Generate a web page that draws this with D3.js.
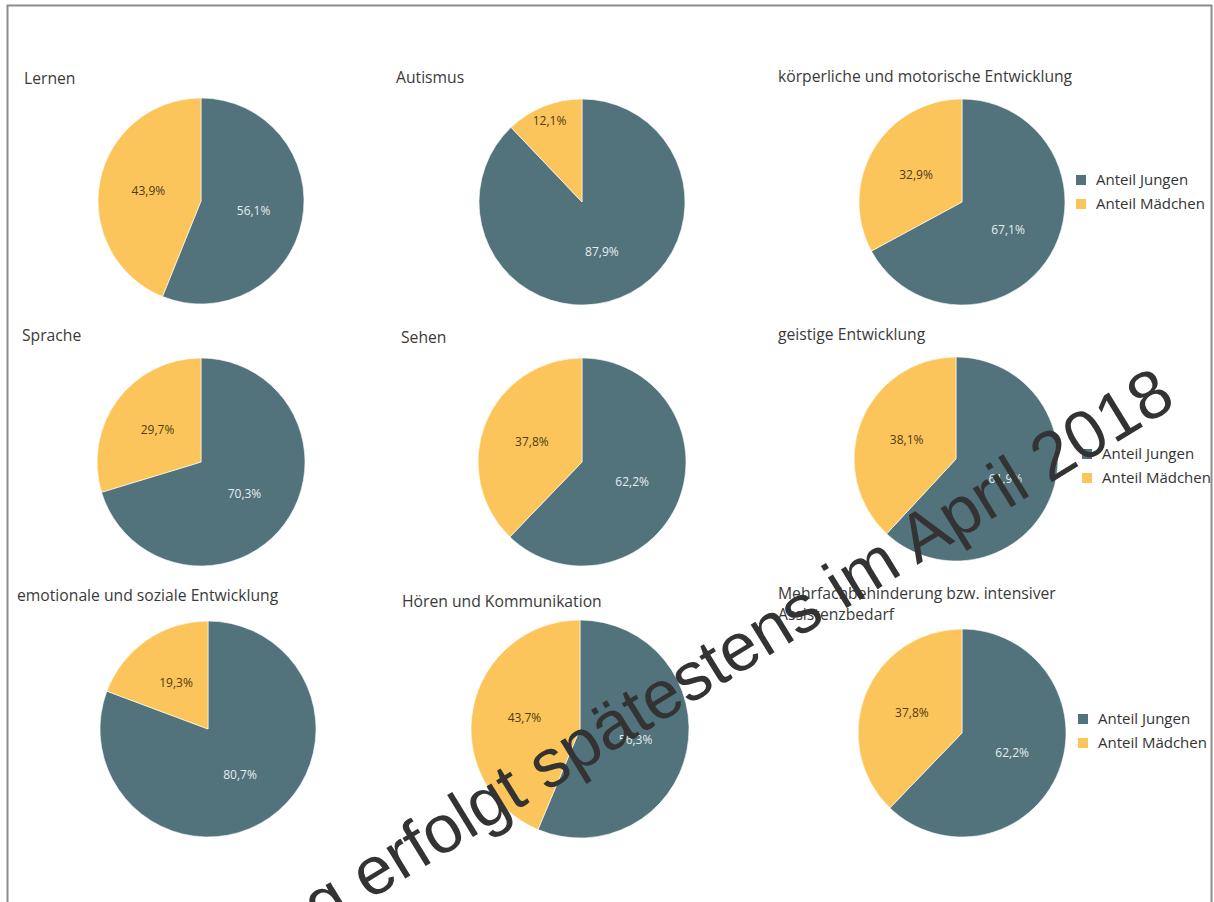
<!DOCTYPE html>
<html><head><meta charset="utf-8">
<script src="https://cdn.jsdelivr.net/npm/d3@7"></script>
<style>
html,body{margin:0;padding:0;background:#fff;overflow:hidden;}
svg{display:block;}
</style></head>
<body>
<svg id="chart" width="1214" height="902"></svg>
<script>
// ---- data ----
const titles = [
  ["Lernen"],
  ["Autismus"],
  ["körperliche und motorische Entwicklung"],
  ["Sprache"],
  ["Sehen"],
  ["geistige Entwicklung"],
  ["emotionale und soziale Entwicklung"],
  ["Hören und Kommunikation"],
  ["Mehrfachbehinderung bzw. intensiver", "Assistenzbedarf"]
];
const seriesNames = ["Anteil Jungen", "Anteil Mädchen"];
const jungen   = [56.1, 87.9, 67.1, 70.3, 62.2, 61.9, 80.7, 56.3, 62.2];
const maedchen = [43.9, 12.1, 32.9, 29.7, 37.8, 38.1, 19.3, 43.7, 37.8];
const watermark = "Veröffentlichung erfolgt spätestens im April 2018";

// ---- layout ----
const layout = [
  {cx:201, cy:201, r:103, tx:24,  ty:84},
  {cx:582, cy:202, r:103, tx:396, ty:83},
  {cx:962, cy:202, r:103, tx:778, ty:82, lx:1076, ly:180},
  {cx:201, cy:462, r:104, tx:22,  ty:341},
  {cx:582, cy:462, r:104, tx:401, ty:343},
  {cx:956, cy:459, r:102, tx:778, ty:340, lx:1082, ly:454},
  {cx:208, cy:729, r:108, tx:17,  ty:601},
  {cx:580, cy:729, r:109, tx:402, ty:607},
  {cx:962, cy:733, r:104, tx:778, ty:599, lx:1078, ly:719}
];
const colors = d3.scaleOrdinal().domain(seriesNames).range(["#52727c", "#fcc55b"]);
const labelColors = d3.scaleOrdinal().domain(seriesNames).range(["#e6edef", "#4e3c12"]);
const fmt = v => d3.format(".1f")(v).replace(".", ",") + "%";
const font = "'Open Sans', 'Noto Sans', sans-serif";

const svg = d3.select("#chart");

// frame
svg.append("rect").attr("x", 7.5).attr("y", 5.5).attr("width", 1204).attr("height", 920)
  .attr("fill", "none").attr("stroke", "#8c8c8c").attr("stroke-width", 2);

const pie = d3.pie().sort(null).value(d => d.value);

layout.forEach((L, i) => {
  const data = [
    {name: seriesNames[0], value: jungen[i]},
    {name: seriesNames[1], value: maedchen[i]}
  ];
  const g = svg.append("g").attr("transform", `translate(${L.cx},${L.cy})`);
  const arc = d3.arc().innerRadius(0).outerRadius(L.r);
  const arcs = pie(data);
  g.selectAll("path").data(arcs).join("path")
    .attr("d", arc)
    .attr("fill", d => colors(d.data.name))
    .attr("stroke", "#ffffff").attr("stroke-width", 0.6);
  g.selectAll("text").data(arcs).join("text")
    .attr("transform", d => {
      const share = d.data.value / 100;
      const rr = share < 0.15 ? L.r * 0.85 : L.r * 0.52;
      const a = (d.startAngle + d.endAngle) / 2;
      return `translate(${Math.sin(a) * rr},${-Math.cos(a) * rr})`;
    })
    .attr("text-anchor", "middle").attr("dy", "0.35em")
    .attr("font-family", font).attr("font-size", 12)
    .attr("fill", d => labelColors(d.data.name))
    .text(d => fmt(d.data.value));

  // title
  const t = svg.append("text").attr("x", L.tx).attr("y", L.ty)
    .attr("font-family", font).attr("font-size", 15.7).attr("fill", "#3a3a3a");
  titles[i].forEach((line, k) => {
    t.append("tspan").attr("x", L.tx).attr("dy", k === 0 ? 0 : 21).text(line);
  });

  // legend
  if (L.lx !== undefined) {
    const lg = svg.append("g").attr("transform", `translate(${L.lx},${L.ly})`);
    seriesNames.forEach((s, k) => {
      lg.append("rect").attr("x", 0).attr("y", k * 24 - 5).attr("width", 10).attr("height", 10)
        .attr("fill", colors(s));
      lg.append("text").attr("x", 20).attr("y", k * 24).attr("dy", "0.35em")
        .attr("font-family", font).attr("font-size", 15).attr("fill", "#333")
        .text(s);
    });
  }
});

// watermark
svg.append("text")
  .attr("transform", "translate(1178,405) rotate(-31.5)")
  .attr("text-anchor", "end")
  .attr("font-family", "'Liberation Sans', Arial, sans-serif")
  .attr("font-size", 68)
  .attr("fill", "#333333")
  .text(watermark);
</script>
</body></html>
